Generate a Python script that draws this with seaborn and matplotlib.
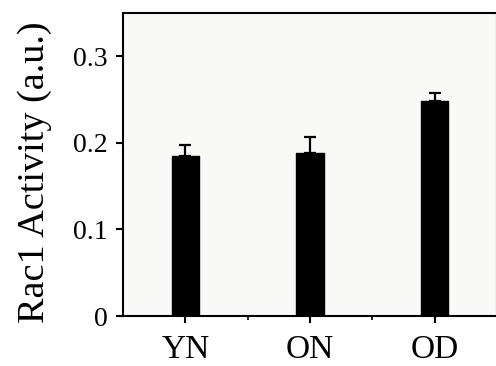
import numpy as np
import pandas as pd
import matplotlib
matplotlib.use("Agg")
import matplotlib.pyplot as plt
import seaborn as sns
from matplotlib.ticker import FixedLocator

# Données
groups = ["YN", "ON", "OD"]
activity = [0.185, 0.188, 0.248]
sem = [0.012, 0.019, 0.010]

df = pd.DataFrame({"group": groups, "activity": activity})

sns.set_style("ticks")
plt.rcParams["font.family"] = ["Liberation Serif", "DejaVu Serif"]
plt.rcParams["text.color"] = "black"
plt.rcParams["xtick.color"] = "black"
plt.rcParams["ytick.color"] = "black"
plt.rcParams["axes.labelcolor"] = "black"

fig = plt.figure(figsize=(4.96, 3.66), dpi=100)
ax = fig.add_axes([0.248, 0.1366, 0.754, 0.828])
ax.set_facecolor("#f9f9f7")

sns.barplot(data=df, x="group", y="activity", color="black", width=0.22,
            errorbar=None, ax=ax)
for p in ax.patches:
    p.set_edgecolor("black")

# barres d'erreur vers le haut seulement
ax.errorbar(range(len(groups)), activity, yerr=[[0] * len(sem), sem],
            fmt="none", ecolor="black", elinewidth=1.6, capsize=4, capthick=1.6)

ax.set_xlim(-0.5, 2.5)
ax.set_ylim(0, 0.35)
ax.set_yticks([0, 0.1, 0.2, 0.3])
ax.set_yticklabels(["0", "0.1", "0.2", "0.3"])
ax.xaxis.set_minor_locator(FixedLocator([0.5, 1.5]))
ax.set_xlabel("")
ax.set_ylabel("Rac1 Activity (a.u.)", fontsize=27.5)
ax.yaxis.set_label_coords(-0.19, 0.475)

ax.tick_params(axis="y", labelsize=20, width=1.5, length=5, direction="out", pad=6)
ax.tick_params(axis="x", which="major", labelsize=24, width=1.5, length=5, direction="out", pad=8)
ax.tick_params(axis="x", which="minor", width=1.2, length=3, direction="out")

for s in ax.spines.values():
    s.set_visible(True)
    s.set_linewidth(1.5)
    s.set_color("black")

fig.savefig("out.png", dpi=100)
